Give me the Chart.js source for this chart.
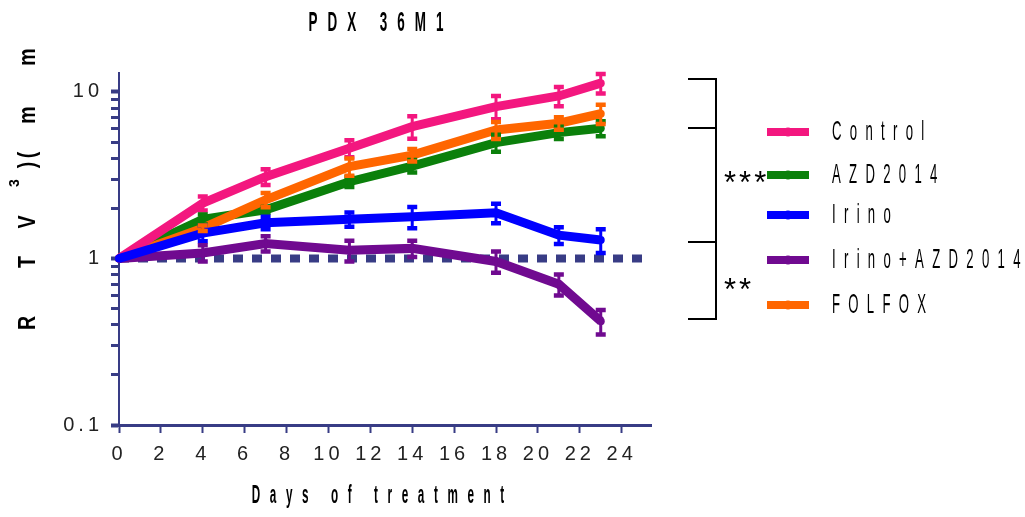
<!DOCTYPE html>
<html>
<head>
<meta charset="utf-8">
<script src="https://cdn.jsdelivr.net/npm/chart.js@4/dist/chart.umd.min.js"></script>
<style>
  html, body { margin: 0; padding: 0; background: #fff; }
</style>
</head>
<body>
<canvas id="rtvChart" width="1025" height="517"></canvas>
<script>
// Datos (RTV relativo, escala log)
const days = [0, 4, 7, 11, 14, 18, 21, 23];
const seriesLabels = ['Control', 'AZD2014', 'Irino', 'Irino+AZD2014', 'FOLFOX'];
const control   = [1, 2.15, 3.10, 4.59, 6.19, 8.16, 9.46, 11.3];
const controlErr = [0, 0.21, 0.34, 0.54, 0.96, 1.30, 1.25, 1.50];
const azd       = [1, 1.72, 1.96, 2.89, 3.59, 4.96, 5.70, 6.05];
const azdErr    = [0, 0.12, 0.08, 0.20, 0.31, 0.58, 0.49, 0.62];
const irino     = [1, 1.42, 1.64, 1.72, 1.78, 1.88, 1.38, 1.29];
const irinoErr  = [0, 0.15, 0.14, 0.17, 0.26, 0.25, 0.16, 0.21];
const combo     = [1, 1.08, 1.23, 1.12, 1.15, 0.96, 0.70, 0.42];
const comboErr  = [0, 0.12, 0.13, 0.16, 0.13, 0.14, 0.10, 0.07];
const folfox    = [1, 1.52, 2.25, 3.56, 4.18, 5.91, 6.49, 7.40];
const folfoxErr = [0, 0.06, 0.22, 0.42, 0.36, 0.69, 0.56, 0.97];
const baselineDays = [0, 25.4];
const baseline = [1, 1];
const xTicks = [0, 2, 4, 6, 8, 10, 12, 14, 16, 18, 20, 22, 24];
const yTicks = [0.1, 0.2, 0.3, 0.4, 0.5, 0.6, 0.7, 0.8, 0.9, 1, 2, 3, 4, 5, 6, 7, 8, 9, 10];
const yLabelled = [0.1, 1, 10];

const navy = '#383c85';
const seriesColors = ['#f3177f', '#0b800b', '#0000ff', '#700a90', '#ff6600'];
const seriesValues = [control, azd, irino, combo, folfox];
const seriesErrors = [controlErr, azdErr, irinoErr, comboErr, folfoxErr];
const drawOrder = [2, 4, 0, 1, 3];
const narrow = '"Liberation Sans Narrow", "Liberation Sans", sans-serif';

function toPoints(xs, ys) {
    return xs.map((d, i) => ({ x: d, y: ys[i] }));
}

// texto condensado con espaciado entre letras
function spacedText(ctx, text, x, y, font, spacing, sx, align) {
    ctx.save();
    ctx.letterSpacing = '0px';
    ctx.font = font;
    ctx.fillStyle = '#000';
    ctx.textBaseline = 'middle';
    ctx.textAlign = 'left';
    const chars = [...text];
    const widths = chars.map(c => ctx.measureText(c).width * sx);
    const total = widths.reduce((a, b) => a + b, 0) + spacing * (chars.length - 1);
    let cx = align === 'center' ? x - total / 2 : x;
    chars.forEach((c, i) => {
        ctx.save();
        ctx.translate(cx, y);
        ctx.scale(sx, 1);
        ctx.fillText(c, 0, 0);
        ctx.restore();
        cx += widths[i] + spacing;
    });
    ctx.restore();
}

const errorBars = {
    id: 'errorBars',
    afterDatasetsDraw(chart) {
        const ctx = chart.ctx;
        const xs = chart.scales.x, ys = chart.scales.y;
        ctx.save();
        seriesValues.forEach((vals, s) => {
            const errs = seriesErrors[s];
            ctx.strokeStyle = seriesColors[s];
            vals.forEach((v, i) => {
                if (!errs[i]) return;
                const px = xs.getPixelForValue(days[i]);
                const top = ys.getPixelForValue(v + errs[i]);
                const bot = ys.getPixelForValue(v - errs[i]);
                ctx.lineWidth = 3;
                ctx.beginPath();
                ctx.moveTo(px, top); ctx.lineTo(px, bot);
                ctx.stroke();
                ctx.lineWidth = 4.5;
                ctx.beginPath();
                ctx.moveTo(px - 5, top); ctx.lineTo(px + 5, top);
                ctx.moveTo(px - 5, bot); ctx.lineTo(px + 5, bot);
                ctx.stroke();
            });
        });
        ctx.restore();
    }
};

const decorations = {
    id: 'decorations',
    beforeDraw(chart) {
        chart.ctx.letterSpacing = '4px';
    },
    afterDraw(chart) {
        const ctx = chart.ctx;
        spacedText(ctx, 'PDX 36M1', 376, 23, 'bold 28px "Liberation Sans"', 10, 0.48, 'center');
        spacedText(ctx, 'Days of treatment', 378, 496, 'bold 26px "Liberation Sans"', 9.6, 0.45, 'center');

        // título del eje Y, letra por letra
        const yTitle = [['R', 323], ['T', 262], ['V', 222], [')', 165], ['(', 155], ['m', 115], ['m', 57]];
        ctx.save();
        ctx.letterSpacing = '0px';
        ctx.fillStyle = '#000';
        ctx.textAlign = 'center';
        ctx.textBaseline = 'middle';
        ctx.font = 'bold 23px "Liberation Sans"';
        yTitle.forEach(([c, yc]) => {
            ctx.save();
            ctx.translate(29, yc);
            ctx.rotate(-Math.PI / 2);
            ctx.scale(0.85, 1);
            ctx.fillText(c, 0, 0);
            ctx.restore();
        });
        ctx.font = 'bold 14px "Liberation Sans"';
        ctx.save();
        ctx.translate(15, 183);
        ctx.rotate(-Math.PI / 2);
        ctx.fillText('3', 0, 0);
        ctx.restore();
        ctx.restore();

        // leyenda
        const rows = [132, 175, 215, 260, 305];
        seriesLabels.forEach((label, i) => {
            ctx.save();
            ctx.strokeStyle = seriesColors[i];
            ctx.fillStyle = seriesColors[i];
            ctx.lineWidth = 8;
            ctx.beginPath();
            ctx.moveTo(767, rows[i]); ctx.lineTo(809, rows[i]);
            ctx.stroke();
            ctx.beginPath();
            ctx.arc(788, rows[i], 4.5, 0, Math.PI * 2);
            ctx.fill();
            ctx.restore();
            spacedText(ctx, label, 832, rows[i], '28px "Liberation Sans"', 8.3, 0.47, 'left');
        });

        // corchetes de significancia
        ctx.save();
        ctx.strokeStyle = '#000';
        ctx.lineWidth = 2;
        ctx.beginPath();
        [79, 128, 242, 319].forEach(y => { ctx.moveTo(688, y); ctx.lineTo(717, y); });
        ctx.moveTo(716, 79); ctx.lineTo(716, 319);
        ctx.stroke();
        ctx.restore();
        spacedText(ctx, '***', 724, 184, '31px "Liberation Sans"', 3, 1, 'left');
        spacedText(ctx, '**', 724, 291, '31px "Liberation Sans"', 3, 1, 'left');
    }
};

const datasets = seriesLabels.map((label, i) => ({
    label: label,
    data: toPoints(days, seriesValues[i]),
    borderColor: seriesColors[i],
    backgroundColor: seriesColors[i],
    borderWidth: 9,
    pointRadius: 4,
    pointBorderWidth: 0,
    tension: 0,
    order: drawOrder[i],
    clip: false
}));
datasets.push({
    label: 'RTV = 1',
    data: toPoints(baselineDays, baseline),
    borderColor: navy,
    borderWidth: 8,
    borderDash: [10, 9],
    borderCapStyle: 'butt',
    pointRadius: 0,
    order: 10,
    clip: false
});

new Chart(document.getElementById('rtvChart').getContext('2d'), {
    type: 'line',
    data: { datasets: datasets },
    options: {
        responsive: false,
        animation: false,
        layout: { padding: { top: 73, right: 374, left: 0, bottom: 0 } },
        plugins: {
            legend: { display: false },
            tooltip: { enabled: false },
            title: { display: false }
        },
        scales: {
            x: {
                type: 'linear',
                min: 0,
                max: 25.4,
                afterFit: s => { s.height = 92; },
                afterBuildTicks: s => { s.ticks = xTicks.map(v => ({ value: v })); },
                border: { color: navy, width: 3 },
                grid: { drawOnChartArea: false, tickLength: 8, tickWidth: 2, tickColor: navy },
                ticks: {
                    color: '#222',
                    font: { family: narrow, size: 20 },
                    padding: 9,
                    maxRotation: 0,
                    autoSkip: false
                }
            },
            y: {
                type: 'logarithmic',
                min: 0.1,
                max: 13,
                afterFit: s => { s.width = 119; },
                afterBuildTicks: s => { s.ticks = yTicks.map(v => ({ value: v, major: yLabelled.includes(v) })); },
                border: { color: navy, width: 2 },
                grid: {
                    drawOnChartArea: false,
                    tickLength: 8,
                    tickWidth: c => yLabelled.includes(c.tick.value) ? 4 : 3,
                    tickColor: navy
                },
                ticks: {
                    color: '#222',
                    font: { family: narrow, size: 20 },
                    padding: 8,
                    autoSkip: false,
                    callback: v => yLabelled.includes(v) ? String(v) : ''
                }
            }
        }
    },
    plugins: [errorBars, decorations]
});
</script>
</body>
</html>
